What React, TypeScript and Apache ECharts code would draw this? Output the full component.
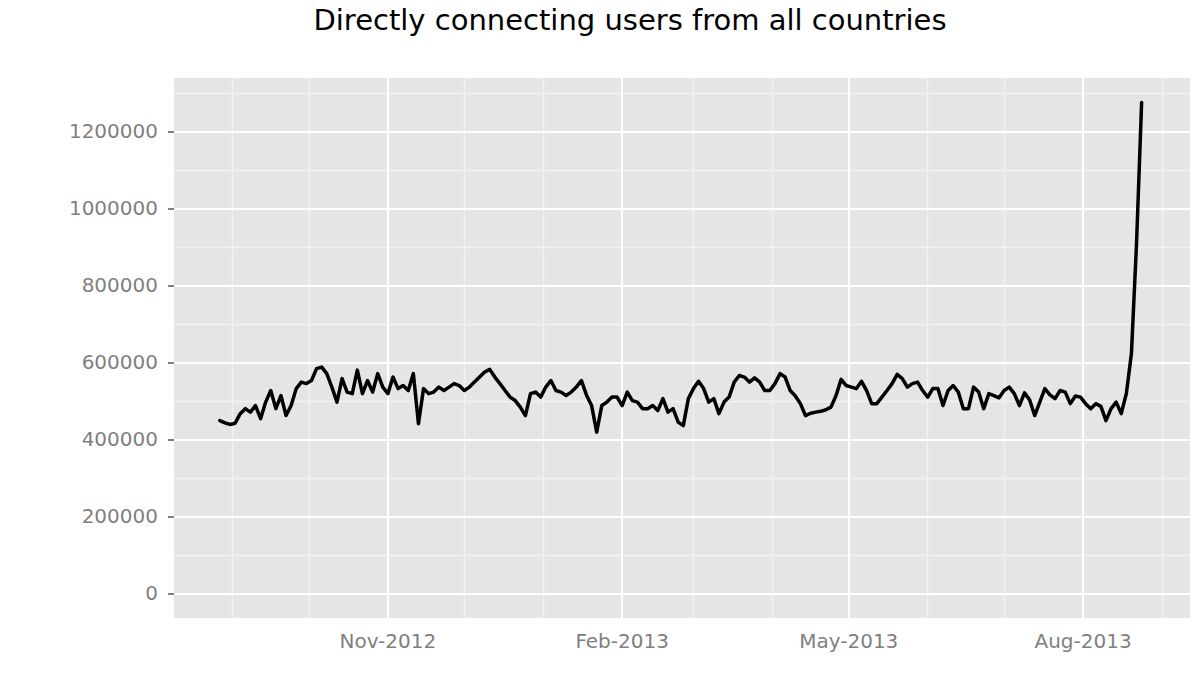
import React, { useEffect, useRef } from "react";
import * as echarts from "echarts";

const TITLE = "Directly connecting users from all countries";
const DAY = 86400000;
const START_DATE = Date.UTC(2012, 7, 27);
const STEP_DAYS = 2;

const USERS = [
  449000, 443000, 439000, 442000, 467000, 480000, 471000, 488000, 454000, 497000,
  527000, 480000, 514000, 462000, 488000, 532000, 549000, 545000, 553000, 584000,
  588000, 571000, 536000, 497000, 558000, 523000, 519000, 580000, 519000, 553000,
  523000, 571000, 536000, 519000, 562000, 532000,
  540000, 527000, 571000, 441000, 532000, 519000, 523000, 536000, 527000, 536000,
  545000, 540000, 527000, 536000, 549000, 562000, 575000, 582000, 562000, 545000,
  527000, 510000, 501000, 484000, 462000, 519000, 523000, 510000, 536000, 553000,
  527000, 523000, 514000, 523000, 536000, 553000, 515000,
  488000, 419000, 488000, 497000, 510000, 510000, 488000, 523000, 501000, 497000,
  480000, 480000, 488000, 475000, 506000, 471000, 480000, 445000, 436000, 506000,
  532000, 551000, 532000, 497000, 506000, 467000, 497000, 510000, 549000, 566000,
  562000, 549000, 560000, 549000, 527000, 527000, 545000,
  571000, 562000, 527000, 513000, 493000, 462000, 468000, 471000, 473000, 477000,
  484000, 514000, 556000, 540000, 536000, 532000, 551000, 527000, 493000, 493000,
  510000, 527000, 545000, 569000, 558000, 536000, 545000, 549000, 527000, 510000,
  532000, 532000, 488000, 527000, 540000, 523000,
  480000, 480000, 536000, 523000, 480000, 519000, 514000, 508000, 527000, 536000,
  519000, 488000, 521000, 503000, 462000, 497000, 532000, 516000, 506000, 527000,
  523000, 493000, 513000, 510000, 493000, 480000, 493000, 486000, 449000, 480000,
  497000, 467000, 519000, 623000, 909000, 1275000,
];

const X_MIN = Date.UTC(2012, 7, 9);
const X_MAX = Date.UTC(2013, 8, 12);
const Y_MIN = -63750;
const Y_MAX = 1338750;

const Y_TICKS = [0, 200000, 400000, 600000, 800000, 1000000, 1200000];
const Y_MINOR = [100000, 300000, 500000, 700000, 900000, 1100000, 1300000];
const X_TICKS = [
  Date.UTC(2012, 10, 1),
  Date.UTC(2013, 1, 1),
  Date.UTC(2013, 4, 1),
  Date.UTC(2013, 7, 1),
];
const X_MINOR = [
  Date.UTC(2012, 8, 1),
  Date.UTC(2012, 9, 1),
  Date.UTC(2012, 11, 1),
  Date.UTC(2013, 0, 1),
  Date.UTC(2013, 2, 1),
  Date.UTC(2013, 3, 1),
  Date.UTC(2013, 5, 1),
  Date.UTC(2013, 6, 1),
  Date.UTC(2013, 8, 1),
];
const MONTHS = ["Jan", "Feb", "Mar", "Apr", "May", "Jun", "Jul", "Aug", "Sep", "Oct", "Nov", "Dec"];

const FONT = "'DejaVu Sans', 'Liberation Sans', sans-serif";

export default function App() {
  const ref = useRef<HTMLDivElement>(null);

  useEffect(() => {
    if (!ref.current) return;
    const chart = echarts.init(ref.current, undefined, { renderer: "svg" });

    const seriesData = USERS.map((v, i) => [START_DATE + i * STEP_DAYS * DAY, v]);
    const minorStyle = { color: "#F2F2F2", width: 1.3, type: "solid" as const };
    const majorStyle = { color: "#FFFFFF", width: 2, type: "solid" as const };

    const gridLines = [
      ...X_MINOR.map((x) => ({ xAxis: x, lineStyle: minorStyle })),
      ...Y_MINOR.map((y) => ({ yAxis: y, lineStyle: minorStyle })),
      ...X_TICKS.map((x) => ({ xAxis: x, lineStyle: majorStyle })),
      ...Y_TICKS.map((y) => ({ yAxis: y, lineStyle: majorStyle })),
    ];

    chart.setOption({
      animation: false,
      backgroundColor: "#FFFFFF",
      textStyle: { fontFamily: FONT },
      graphic: [
        {
          type: "text",
          x: 630,
          y: 20,
          style: {
            text: TITLE,
            fontFamily: FONT,
            fontSize: 29,
            fill: "#000000",
            textAlign: "center",
            textVerticalAlign: "middle",
          },
        },
      ],
      grid: {
        left: 174,
        top: 78,
        right: 10,
        bottom: 57,
        show: true,
        backgroundColor: "#E5E5E5",
        borderWidth: 0,
      },
      xAxis: {
        type: "value",
        min: X_MIN,
        max: X_MAX,
        axisLine: { show: false },
        splitLine: { show: false },
        axisTick: {
          show: true,
          customValues: X_TICKS,
          length: 6,
          lineStyle: { color: "#7F7F7F", width: 2 },
        },
        axisLabel: {
          customValues: X_TICKS,
          color: "#7F7F7F",
          fontSize: 20,
          fontFamily: FONT,
          margin: 13,
          formatter: (v: number) => {
            const d = new Date(v);
            return MONTHS[d.getUTCMonth()] + "-" + d.getUTCFullYear();
          },
        },
      },
      yAxis: {
        type: "value",
        min: Y_MIN,
        max: Y_MAX,
        axisLine: { show: false },
        splitLine: { show: false },
        axisTick: {
          show: true,
          customValues: Y_TICKS,
          length: 6,
          lineStyle: { color: "#7F7F7F", width: 2 },
        },
        axisLabel: {
          customValues: Y_TICKS,
          color: "#7F7F7F",
          fontSize: 20,
          fontFamily: FONT,
          margin: 16,
          formatter: (v: number) => String(v),
        },
      },
      series: [
        {
          type: "line",
          data: seriesData,
          showSymbol: false,
          symbol: "none",
          z: 3,
          lineStyle: { color: "#000000", width: 3.5, join: "round", cap: "round" },
          markLine: {
            silent: true,
            symbol: "none",
            z: 1,
            label: { show: false },
            emphasis: { disabled: true },
            data: gridLines,
          },
        },
      ],
    });

    return () => chart.dispose();
  }, []);

  return (
    <div
      ref={ref}
      style={{ position: "absolute", left: 0, top: 0, width: 1200, height: 675 }}
    />
  );
}
